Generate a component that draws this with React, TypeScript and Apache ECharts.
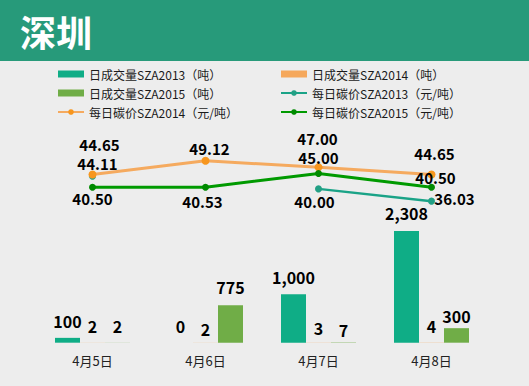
import React, { useEffect, useRef } from 'react';
import * as echarts from 'echarts';

const categories = ['4月5日', '4月6日', '4月7日', '4月8日'];
const volume2013 = [100, 0, 1000, 2308];
const volume2014 = [2, 2, 3, 4];
const volume2015 = [2, 775, 7, 300];
const price2013: (number | null)[] = [44.11, null, 40.0, 36.03];
const price2014 = [44.65, 49.12, 47.0, 44.65];
const price2015 = [40.5, 40.53, 45.0, 40.5];

const seriesNames = [
  '日成交量SZA2013（吨）',
  '日成交量SZA2014（吨）',
  '日成交量SZA2015（吨）',
  '每日碳价SZA2013（元/吨）',
  '每日碳价SZA2014（元/吨）',
  '每日碳价SZA2015（元/吨）',
];

// label styling (offsets / distances), kept separate from data
const offs2013 = [[5, -13], [0, 0], [-4, 13], [23, -3]];
const offs2014 = [[7, -30], [4, -12], [-1, -28.5], [3, -21]];
const offs2015 = [[0, 11], [-3, 14.5], [0, -16], [4, -10]];
const dist2013 = [9, 9, 9, 10];
const dist2014 = [9, 6, 7, 9];
const dist2015 = [9, 10, 4, 4];

const FONT = '"Noto Sans CJK SC", "Noto Sans", sans-serif';

const lineLabel = {
  show: true,
  position: 'inside',
  color: '#000',
  fontSize: 15,
  lineHeight: 15,
  fontWeight: 'bold',
  fontFamily: FONT,
  formatter: (p: any) => (p.value == null ? '' : Number(p.value).toFixed(2)),
};

const barLabel = {
  show: true,
  position: 'top',
  color: '#000',
  fontSize: 16,
  lineHeight: 16,
  fontWeight: 'bold',
  fontFamily: FONT,
  formatter: (p: any) => Number(p.value).toLocaleString('en-US'),
};

function lineData(vals: (number | null)[], offs: number[][]) {
  return vals.map((v, i) => ({ value: v, label: { offset: offs[i] } }));
}
function barData(vals: number[], dist: number[]) {
  return vals.map((v, i) => ({ value: v, label: { distance: dist[i] } }));
}

export default function App() {
  const ref = useRef<HTMLDivElement>(null);
  useEffect(() => {
    document.body.style.margin = '0';
    const chart = echarts.init(ref.current!, null, { renderer: 'svg' });
    const legendText = { fontSize: 12, color: '#1a1a1a', fontFamily: FONT, lineHeight: 14 };
    chart.setOption({
      animation: false,
      backgroundColor: '#EDEDED',
      graphic: [
        { type: 'rect', shape: { x: 0, y: 0, width: 529, height: 61 }, style: { fill: '#279A7A' } },
        {
          type: 'text',
          x: 20,
          y: 31,
          style: {
            text: '深圳',
            fill: '#fff',
            fontSize: 36,
            fontWeight: 'bold',
            fontFamily: FONT,
            verticalAlign: 'middle',
          },
        },
      ],
      legend: [
        {
          orient: 'vertical',
          left: 57,
          top: 67,
          padding: 0,
          itemGap: 5,
          itemWidth: 26,
          itemHeight: 7,
          textStyle: legendText,
          data: [
            { name: seriesNames[0], icon: 'rect' },
            { name: seriesNames[2], icon: 'rect' },
            { name: seriesNames[4] },
          ],
        },
        {
          orient: 'vertical',
          left: 280,
          top: 67,
          padding: 0,
          itemGap: 5,
          itemWidth: 26,
          itemHeight: 7,
          textStyle: legendText,
          data: [
            { name: seriesNames[1], icon: 'rect' },
            { name: seriesNames[3] },
            { name: seriesNames[5] },
          ],
        },
      ],
      grid: { left: 36, right: 41, top: 120, bottom: 43.3 },
      xAxis: {
        type: 'category',
        data: categories,
        axisLine: { show: false },
        axisTick: { show: false },
        axisLabel: { color: '#222', fontSize: 13, fontFamily: FONT, margin: 11 },
      },
      yAxis: [
        { type: 'value', min: 0, max: 4600, show: false, splitLine: { show: false } },
        { type: 'value', min: -9.8, max: 62.3, show: false, splitLine: { show: false } },
      ],
      series: [
        {
          name: seriesNames[0],
          type: 'bar',
          barWidth: 25,
          barGap: '0%',
          itemStyle: { color: '#0FAD86' },
          label: barLabel,
          data: barData(volume2013, dist2013),
        },
        {
          name: seriesNames[1],
          type: 'bar',
          barWidth: 25,
          barGap: '0%',
          itemStyle: { color: '#F5A85C' },
          label: barLabel,
          data: barData(volume2014, dist2014),
        },
        {
          name: seriesNames[2],
          type: 'bar',
          barWidth: 25,
          barGap: '0%',
          itemStyle: { color: '#70AD47' },
          label: barLabel,
          data: barData(volume2015, dist2015),
        },
        {
          name: seriesNames[3],
          type: 'line',
          yAxisIndex: 1,
          symbol: 'circle',
          symbolSize: 7,
          z: 3,
          lineStyle: { color: '#1AA387', width: 2.5 },
          itemStyle: { color: '#22A085' },
          label: lineLabel,
          data: lineData(price2013, offs2013),
        },
        {
          name: seriesNames[4],
          type: 'line',
          yAxisIndex: 1,
          symbol: 'circle',
          symbolSize: 8,
          z: 4,
          lineStyle: { color: '#F5AA5F', width: 3 },
          itemStyle: { color: '#F7961E' },
          label: lineLabel,
          data: lineData(price2014, offs2014),
        },
        {
          name: seriesNames[5],
          type: 'line',
          yAxisIndex: 1,
          symbol: 'circle',
          symbolSize: 7,
          z: 5,
          lineStyle: { color: '#009A00', width: 3 },
          itemStyle: { color: '#008A00' },
          label: lineLabel,
          data: lineData(price2015, offs2015),
        },
      ],
    });
    return () => chart.dispose();
  }, []);
  return <div ref={ref} style={{ width: 529, height: 386 }} />;
}
